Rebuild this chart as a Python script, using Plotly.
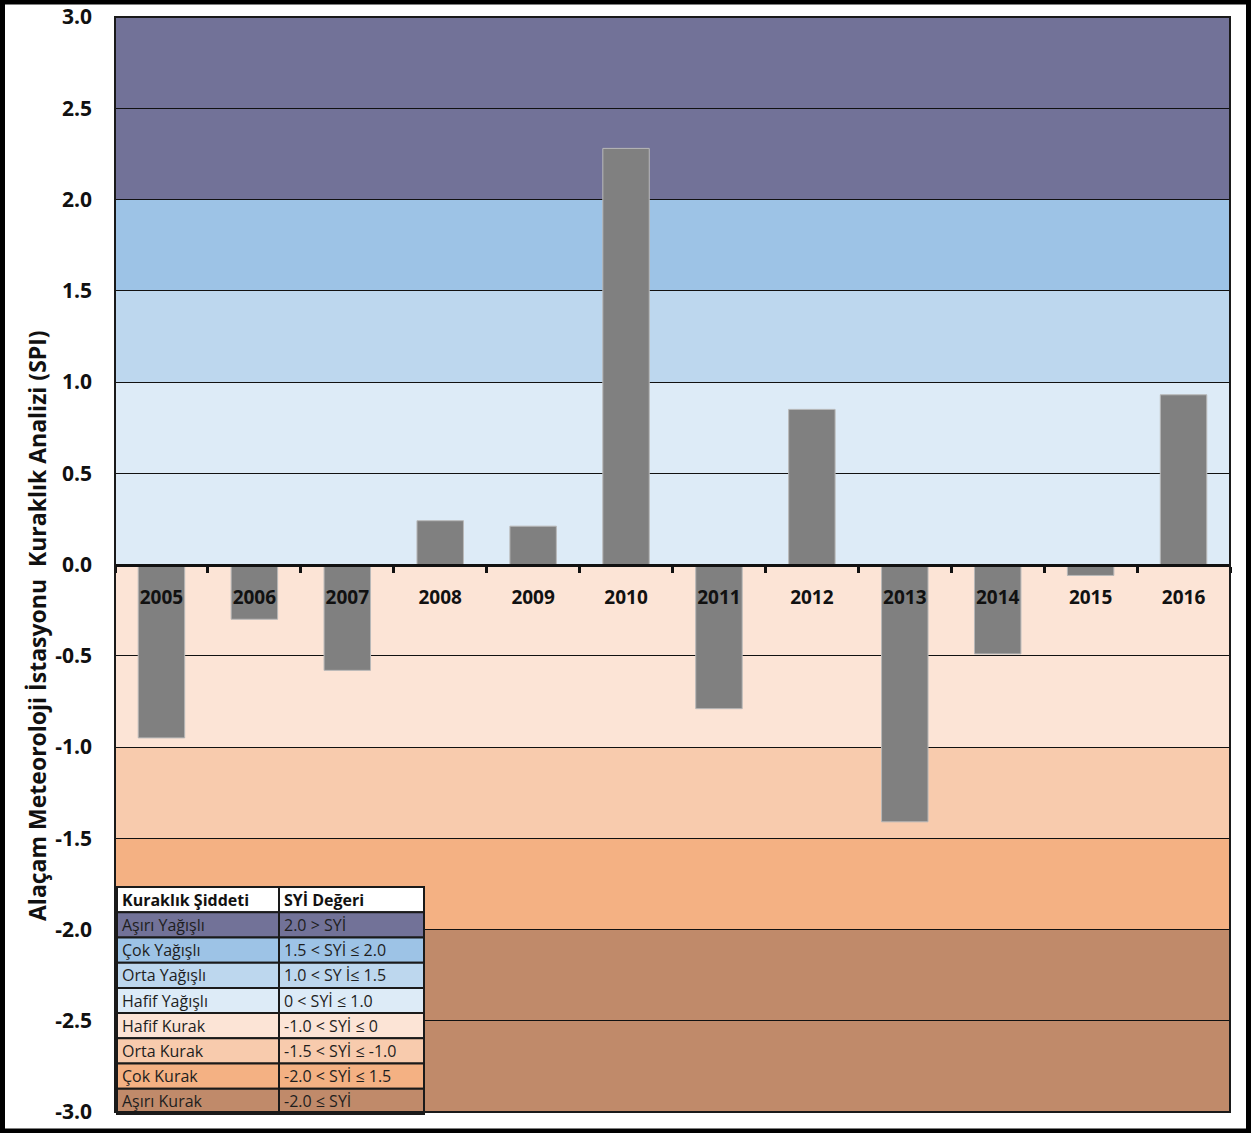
import plotly.graph_objects as go

# Yearly SPI values for the Alaçam station
years = ["2005", "2006", "2007", "2008", "2009", "2010",
         "2011", "2012", "2013", "2014", "2015", "2016"]
spi = [-0.95, -0.30, -0.58, 0.24, 0.21, 2.28,
       -0.79, 0.85, -1.41, -0.49, -0.06, 0.93]

# Drought-severity classes: band limits, fill colours and the legend table text
band_low = [2.0, 1.5, 1.0, 0.0, -1.0, -1.5, -2.0, -3.0]
band_high = [3.0, 2.0, 1.5, 1.0, 0.0, -1.0, -1.5, -2.0]
band_colors = ["#727298", "#9dc3e6", "#bdd7ee", "#ddebf7",
               "#fce4d6", "#f8cbad", "#f4b183", "#c08a6a"]
class_names = ["Aşırı Yağışlı", "Çok Yağışlı", "Orta Yağışlı", "Hafif Yağışlı",
               "Hafif Kurak", "Orta Kurak", "Çok Kurak", "Aşırı Kurak"]
class_ranges = ["2.0 > SYİ", "1.5 < SYİ ≤ 2.0", "1.0 < SY İ≤ 1.5", "0 < SYİ ≤ 1.0",
                "-1.0 < SYİ ≤ 0", "-1.5 < SYİ ≤ -1.0", "-2.0 < SYİ ≤ 1.5", "-2.0 ≤ SYİ"]
table_header = ["Kuraklık Şiddeti", "SYİ Değeri"]
y_ticks = [3.0, 2.5, 2.0, 1.5, 1.0, 0.5, 0.0, -0.5, -1.0, -1.5, -2.0, -2.5, -3.0]

W, H = 1251, 1133
L, R, T, B = 115, 21, 17, 21
PW, PH = W - L - R, H - T - B


def px_x(p):
    return (p - L) / PW


def px_y(p):
    return (H - B - p) / PH


FONT = "Open Sans"

fig = go.Figure()
fig.add_trace(go.Bar(
    x=years, y=spi, width=0.5,
    marker=dict(color="#808080", line=dict(color="#b8b8b8", width=1)),
    hoverinfo="x+y",
))

shapes = []
# background severity bands
for lo, hi, c in zip(band_low, band_high, band_colors):
    shapes.append(dict(type="rect", xref="paper", yref="y", x0=0, x1=1, y0=lo, y1=hi,
                       fillcolor=c, line=dict(width=0), layer="below"))

# legend table drawn over the lower-left corner
tx0, tx1, tmid = px_x(117), px_x(424), px_x(279)
ty_top, ty_bot = 887, 1114
nrows = len(class_names) + 1
rh = (ty_bot - ty_top) / nrows
annotations = []
row_fills = ["#ffffff"] + band_colors
row_left = [table_header[0]] + class_names
row_right = [table_header[1]] + class_ranges
for i in range(nrows):
    y_top = px_y(ty_top + i * rh)
    y_bot = px_y(ty_top + (i + 1) * rh)
    for xa, xb in ((tx0, tmid), (tmid, tx1)):
        shapes.append(dict(type="rect", xref="paper", yref="paper", x0=xa, x1=xb,
                           y0=y_bot, y1=y_top, fillcolor=row_fills[i],
                           line=dict(color="#1a1a1a", width=2), layer="above"))
    bold = i == 0
    ymid = (y_top + y_bot) / 2
    for xa, txt in ((tx0, row_left[i]), (tmid, row_right[i])):
        annotations.append(dict(
            xref="paper", yref="paper", x=xa, y=ymid, xanchor="left", yanchor="middle",
            xshift=3, showarrow=False,
            text=f"<b>{txt}</b>" if bold else txt,
            font=dict(family=FONT, size=16, color="#1e1e1e" if not bold else "#111111"),
        ))

# plot-area frame and outer picture frame
shapes.append(dict(type="rect", xref="paper", yref="paper", x0=0, x1=1, y0=0, y1=1,
                   line=dict(color="#1a1a1a", width=2), fillcolor="rgba(0,0,0,0)",
                   layer="above"))
shapes.append(dict(type="rect", xref="paper", yref="paper",
                   x0=px_x(2.5), x1=px_x(W - 2.5), y0=px_y(H - 2), y1=px_y(2),
                   line=dict(color="#000000", width=5), fillcolor="rgba(0,0,0,0)",
                   layer="above"))

annotations.append(dict(
    xref="paper", yref="paper", x=px_x(37), y=px_y(626), showarrow=False,
    textangle=-90, xanchor="center", yanchor="middle",
    text="<b>Alaçam Meteoroloji İstasyonu  Kuraklık Analizi (SPI)</b>",
    font=dict(family=FONT, size=23, color="#111111"),
))

fig.update_layout(
    width=W, height=H,
    margin=dict(l=L, r=R, t=T, b=B, pad=0, autoexpand=False),
    paper_bgcolor="white", plot_bgcolor="white",
    showlegend=False,
    shapes=shapes, annotations=annotations,
    bargap=0.5,
    xaxis=dict(
        type="category", anchor="free", position=0.5, automargin=False,
        showline=True, linecolor="#111111", linewidth=3,
        ticks="outside", tickson="boundaries", ticklen=6, tickwidth=3, tickcolor="#111111",
        tickfont=dict(family=FONT, size=19, color="#111111", weight="bold"),
        ticklabelstandoff=15,
        showgrid=False, zeroline=False,
    ),
    yaxis=dict(
        range=[-3, 3], tickvals=y_ticks, ticktext=[f"{v:.1f}" for v in y_ticks],
        tickfont=dict(family=FONT, size=21, color="#111111", weight="bold"),
        ticklabelstandoff=22, automargin=False,
        showgrid=True, gridcolor="#111111", gridwidth=1,
        zeroline=False, showline=False, ticks="",
    ),
)

fig.write_html("out.html")
